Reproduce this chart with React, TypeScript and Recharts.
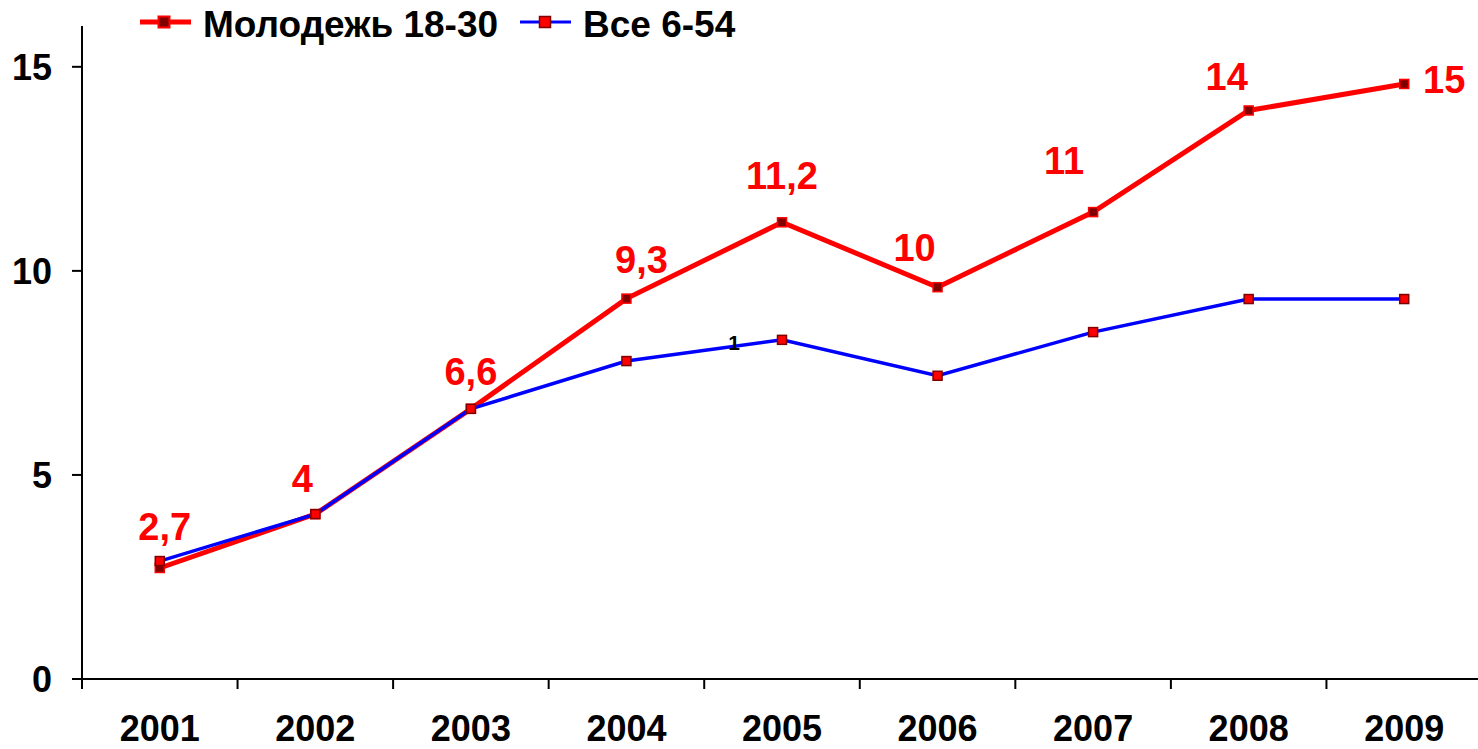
import React from 'react';
import { LineChart, Line, XAxis, YAxis, Legend, LabelList } from 'recharts';

const years = ['2001', '2002', '2003', '2004', '2005', '2006', '2007', '2008', '2009'];
const youth = [2.72, 4.04, 6.62, 9.32, 11.19, 9.6, 11.44, 13.93, 14.58];
const all = [2.89, 4.04, 6.62, 7.79, 8.31, 7.43, 8.5, 9.31, 9.31];
const youthLabels = ['2,7', '4', '6,6', '9,3', '11,2', '10', '11', '14', '15'];
const allLabels = ['', '', '', '', '1', '', '', '', ''];
const yTicks = [0, 5, 10, 15];
const seriesNames = ['Молодежь 18-30', 'Все 6-54'];

// label placement offsets (style, not data)
const youthLabelOffsets: [number, number][] = [
  [5, -42], [-13, -36], [0, -38], [15, -40], [0, -47], [-23, -40], [-29, -52], [-22, -34], [40, -5],
];

const data = years.map((y, i) => ({
  year: y,
  youth: youth[i],
  all: all[i],
  youthLabel: youthLabels[i],
  allLabel: allLabels[i],
}));

const FONT = '"Liberation Sans", Arial, sans-serif';
const CHART_W = 1482;
const Y_W = 82;
const HALF_BAND = (CHART_W - Y_W) / years.length / 2;

const XTick = (props: any) => {
  const { x, y, payload } = props;
  return (
    <g>
      <line x1={x - HALF_BAND} y1={y} x2={x - HALF_BAND} y2={y + 10} stroke="#000" strokeWidth={2} />
      <text x={x} y={y + 62} textAnchor="middle" fontFamily={FONT} fontWeight="bold" fontSize={36} fill="#000">
        {payload.value}
      </text>
    </g>
  );
};

const YouthDot = (props: any) => {
  const { cx, cy } = props;
  return <rect x={cx - 4.5} y={cy - 4.5} width={9} height={9} fill="#800000" stroke="#FF0000" strokeWidth={1.5} />;
};

const AllDot = (props: any) => {
  const { cx, cy } = props;
  return <rect x={cx - 4.5} y={cy - 4.5} width={9} height={9} fill="#FF0000" stroke="#800000" strokeWidth={1.5} />;
};

const youthLabelRender = (props: any) => {
  const { x, y, value, index } = props;
  const [dx, dy] = youthLabelOffsets[index] || [0, -40];
  return (
    <text x={x + dx} y={y + dy + 14} textAnchor="middle" fontFamily={FONT} fontWeight="bold" fontSize={38} fill="#FF0000">
      {value}
    </text>
  );
};

const allLabelRender = (props: any) => {
  const { x, y, value } = props;
  if (!value) return null;
  return (
    <text x={x - 48} y={y + 10} textAnchor="middle" fontFamily={FONT} fontWeight="bold" fontSize={21} fill="#000">
      {value}
    </text>
  );
};

const LegendContent = () => (
  <svg width={800} height={50} style={{ overflow: 'visible' }}>
    <line x1={140} y1={22} x2={191} y2={22} stroke="#FF0000" strokeWidth={5} />
    <rect x={158.5} y={16.5} width={11} height={11} fill="#800000" stroke="#FF0000" strokeWidth={2} />
    <text x={203} y={37} fontFamily={FONT} fontWeight="bold" fontSize={37} fill="#000">{seriesNames[0]}</text>
    <line x1={520} y1={22} x2={571} y2={22} stroke="#0000FF" strokeWidth={3} />
    <rect x={539.5} y={16.5} width={11} height={11} fill="#FF0000" stroke="#800000" strokeWidth={1.5} />
    <text x={583} y={37} fontFamily={FONT} fontWeight="bold" fontSize={37} fill="#000">{seriesNames[1]}</text>
  </svg>
);

export default function App() {
  return (
    <div style={{ position: 'absolute', left: 0, top: 0, width: 1478, height: 749, overflow: 'hidden', background: '#fff' }}>
      <LineChart width={CHART_W} height={749} data={data} margin={{ top: 26, right: 0, bottom: 0, left: 0 }}>
        <XAxis
          dataKey="year"
          scale="band"
          height={70}
          tickLine={false}
          tickSize={0}
          tickMargin={0}
          axisLine={{ stroke: '#000', strokeWidth: 2 }}
          tick={<XTick />}
          interval={0}
        />
        <YAxis
          width={Y_W}
          domain={[0, 16]}
          ticks={yTicks}
          tickSize={10}
          tickMargin={20}
          axisLine={{ stroke: '#000', strokeWidth: 2 }}
          tickLine={{ stroke: '#000', strokeWidth: 2 }}
          tick={{ fontFamily: FONT, fontWeight: 'bold', fontSize: 36, fill: '#000' }}
        />
        <Legend
          layout="horizontal"
          verticalAlign="middle"
          align="center"
          wrapperStyle={{ top: 0, left: 0, width: 800, height: 50 }}
          content={<LegendContent />}
        />
        <Line
          dataKey="youth"
          name={seriesNames[0]}
          stroke="#FF0000"
          strokeWidth={5}
          dot={<YouthDot />}
          isAnimationActive={false}
        >
          <LabelList dataKey="youthLabel" content={youthLabelRender} />
        </Line>
        <Line
          dataKey="all"
          name={seriesNames[1]}
          stroke="#0000FF"
          strokeWidth={3.5}
          dot={<AllDot />}
          isAnimationActive={false}
        >
          <LabelList dataKey="allLabel" content={allLabelRender} />
        </Line>
      </LineChart>
    </div>
  );
}
